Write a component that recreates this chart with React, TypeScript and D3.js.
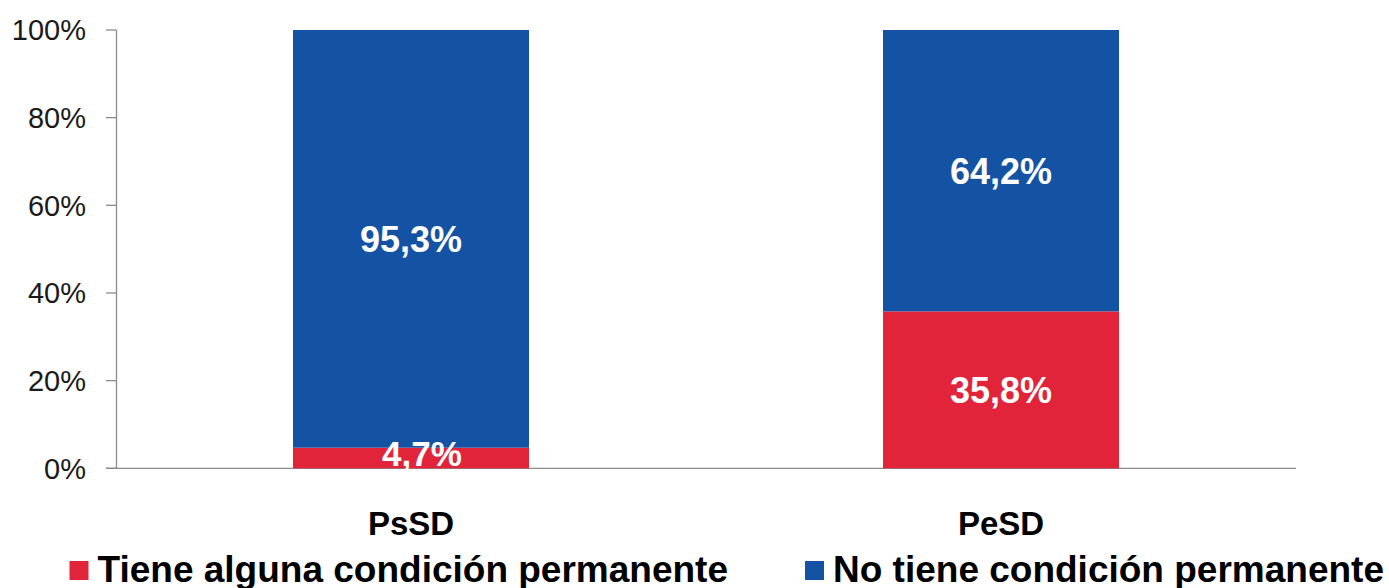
import React, { useEffect, useRef } from "react";
import * as d3 from "d3";

// categories and stacked shares (percent)
const categories = ["PsSD", "PeSD"];
const tieneValues = [4.7, 35.8];
const noTieneValues = [95.3, 64.2];
const seriesNames = ["Tiene alguna condición permanente", "No tiene condición permanente"];
const seriesColors = ["#e2243a", "#1453a3"];
const yTicks = [0, 20, 40, 60, 80, 100];

const fmt = (v: number) => v.toFixed(1).replace(".", ",") + "%";

function App() {
  const svgRef = useRef<SVGSVGElement>(null);
  const W = 1389;
  const H = 588;

  useEffect(() => {
    const svg = d3.select(svgRef.current);
    svg.selectAll("*").remove();

    const x = d3
      .scaleBand<string>()
      .domain(categories)
      .range([116, 1296])
      .paddingInner(0.6)
      .paddingOuter(0.3);

    const y = d3.scaleLinear().domain([0, 100]).range([468.3, 30]);

    const font = "'Liberation Sans', Arial, sans-serif";

    // y axis
    const yAxis = svg.append("g");
    yAxis
      .append("line")
      .attr("x1", 116.5)
      .attr("x2", 116.5)
      .attr("y1", y(100))
      .attr("y2", y(0))
      .attr("stroke", "#8c8c8c")
      .attr("stroke-width", 1.3);
    yTicks.forEach((t) => {
      yAxis
        .append("line")
        .attr("x1", 106)
        .attr("x2", 116.5)
        .attr("y1", y(t))
        .attr("y2", y(t))
        .attr("stroke", "#8c8c8c")
        .attr("stroke-width", 1.3);
      yAxis
        .append("text")
        .attr("x", 86)
        .attr("y", y(t))
        .attr("dy", "0.36em")
        .attr("text-anchor", "end")
        .attr("font-family", font)
        .attr("font-size", 29)
        .attr("fill", "#1a1a1a")
        .text(t + "%");
    });

    // x baseline
    svg
      .append("line")
      .attr("x1", 106)
      .attr("x2", 1296)
      .attr("y1", y(0))
      .attr("y2", y(0))
      .attr("stroke", "#8c8c8c")
      .attr("stroke-width", 1.3);

    // stacked bars
    const stacks = [tieneValues, noTieneValues];
    const bars = svg.append("g");
    const labels = svg.append("g");
    categories.forEach((c, i) => {
      let base = 0;
      stacks.forEach((vals, s) => {
        const v = vals[i];
        const top = base + v;
        bars
          .append("rect")
          .attr("x", x(c)!)
          .attr("width", x.bandwidth())
          .attr("y", y(top))
          .attr("height", y(base) - y(top))
          .attr("fill", seriesColors[s]);
        // small segments: label pushed up off the axis and nudged right
        const mid = (y(base) + y(top)) / 2;
        const small = y(base) - y(top) < 30;
        labels
          .append("text")
          .attr("x", x(c)! + x.bandwidth() / 2 + (small ? 11 : 0))
          .attr("y", small ? y(0) - 15 : mid)
          .attr("dy", "0.36em")
          .attr("text-anchor", "middle")
          .attr("font-family", font)
          .attr("font-weight", "bold")
          .attr("font-size", small ? 35 : 36)
          .attr("fill", "#ffffff")
          .text(fmt(v));
        base = top;
      });
    });

    // category labels
    categories.forEach((c) => {
      svg
        .append("text")
        .attr("x", x(c)! + x.bandwidth() / 2)
        .attr("y", 535)
        .attr("text-anchor", "middle")
        .attr("font-family", font)
        .attr("font-weight", "bold")
        .attr("font-size", 33)
        .attr("fill", "#000")
        .text(c);
    });

    // legend
    const legendX = [69.5, 805];
    seriesNames.forEach((name, i) => {
      svg
        .append("rect")
        .attr("x", legendX[i])
        .attr("y", 561)
        .attr("width", 19)
        .attr("height", 19)
        .attr("fill", seriesColors[i]);
      svg
        .append("text")
        .attr("x", legendX[i] + 28)
        .attr("y", 581.5)
        .attr("font-family", font)
        .attr("font-weight", "bold")
        .attr("font-size", 37)
        .attr("fill", "#000")
        .text(name);
    });
  }, []);

  return (
    <svg
      ref={svgRef}
      width={W}
      height={H}
      style={{ position: "absolute", left: 0, top: 0, background: "#fff" }}
    />
  );
}

export default App;
